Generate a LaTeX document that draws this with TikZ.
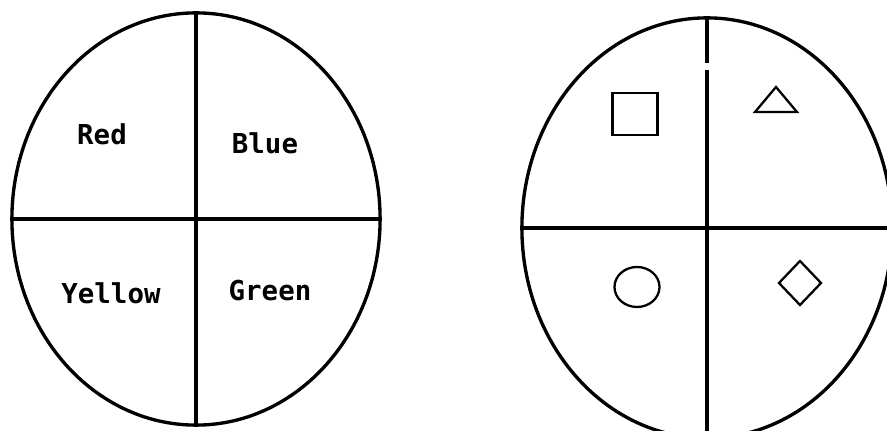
\documentclass[tikz,border=0pt]{standalone}
\usepackage{fontspec}
\setmonofont{DejaVu Sans Mono}
\usetikzlibrary{shapes.geometric}

\begin{document}
\begin{tikzpicture}[x=0.01cm,y=-0.01cm,line width=0.95pt,
  font=\ttfamily\bfseries\fontsize{7.8}{9}\selectfont,
  wheel/.style={draw,ellipse,inner sep=0pt,outer sep=0pt},
  symb/.style={draw,line width=0.65pt,inner sep=0pt,outer sep=0pt}]
\useasboundingbox (0,0) rectangle (887,431);
\clip (0,0) rectangle (887,431);
% colour wheel
\node[wheel,minimum width=3.68cm,minimum height=4.12cm] (wl) at (196,219) {};
\draw (wl.north) -- (wl.south);
\draw (wl.west) -- (wl.east);
\node (red) at (102,134) {Red};
\node (blue) at (265,143) {Blue};
\node (yellow) at (111,293) {Yellow};
\node (green) at (270,291) {Green};
% shape wheel
\node[wheel,minimum width=3.70cm,minimum height=4.20cm] (wr) at (707,228) {};
\coordinate (gapa) at (707,63);
\coordinate (gapb) at (707,70);
\draw (wr.north) -- (gapa);
\draw (gapb) -- (wr.south);
\draw (wr.west) -- (wr.east);
\node[symb,rectangle,minimum width=0.45cm,minimum height=0.42cm] (sq) at (635,114) {};
\coordinate (ta) at (755,112);
\coordinate (tb) at (776,87);
\coordinate (tc) at (797,112);
\draw[line width=0.65pt] (ta) -- (tb) -- (tc) -- cycle;
\node[symb,ellipse,minimum width=0.45cm,minimum height=0.40cm] (ci) at (637,287) {};
\node[symb,diamond,minimum width=0.42cm,minimum height=0.44cm] (di) at (800,283) {};
\end{tikzpicture}
\end{document}
